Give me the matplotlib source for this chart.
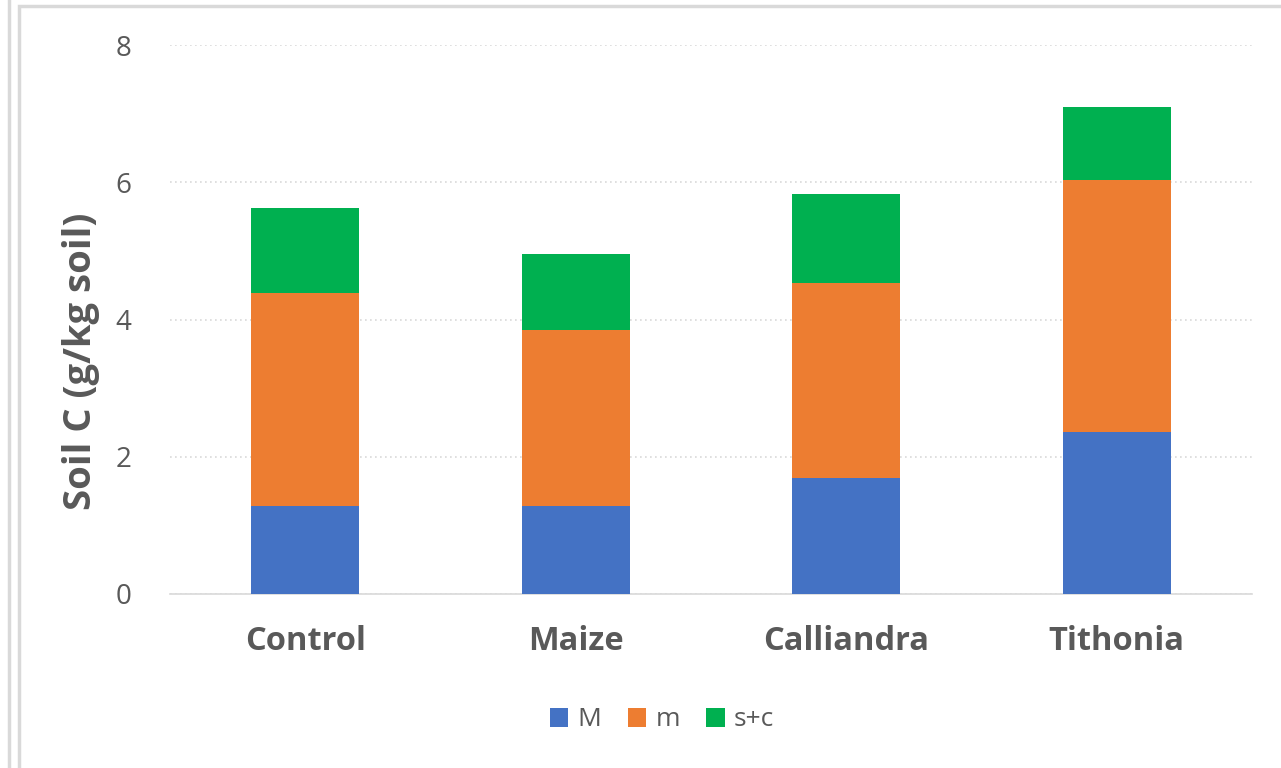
import numpy as np
import matplotlib.pyplot as plt
from matplotlib.patches import Rectangle
from matplotlib.lines import Line2D

categories = ['Control', 'Maize', 'Calliandra', 'Tithonia']
M = [1.28, 1.28, 1.69, 2.36]
m = [3.11, 2.57, 2.84, 3.67]
sc = [1.24, 1.11, 1.30, 1.07]

colors = ['#4472c4', '#ed7d31', '#00b050']

plt.rcParams['font.family'] = ['Open Sans', 'DejaVu Sans']

fig = plt.figure(figsize=(12.81, 7.68), dpi=100)
ax = fig.add_axes([170/1281, 1-594/768, (1252-170)/1281, (594-45)/768])

x = np.arange(len(categories))
w = 0.4
bottom = np.zeros(len(categories))
for vals, c, lab in zip([M, m, sc], colors, ['M', 'm', 's+c']):
    ax.bar(x, vals, w, bottom=bottom, color=c, label=lab, zorder=3)
    bottom += np.array(vals)

ax.set_xlim(-0.5, 3.5)
ax.set_ylim(0, 8)
ax.set_yticks([0, 2, 4, 6, 8])
ax.set_xticks(x)
ax.set_xticklabels(categories, fontsize=23.5, fontweight='bold', color='#595959')
ax.tick_params(axis='y', labelsize=20, labelcolor='#595959', length=0, pad=28)
ax.tick_params(axis='x', length=0, pad=22)
ax.yaxis.grid(True, linestyle=(0, (1, 2)), color='#d9d9d9', linewidth=1.2, zorder=0)
for s in ['top', 'right', 'left']:
    ax.spines[s].set_visible(False)
ax.spines['bottom'].set_color('#d9d9d9')
ax.spines['bottom'].set_linewidth(1.2)
ax.set_ylabel('Soil C (g/kg soil)', fontsize=27.5, fontweight='bold', color='#595959')
ax.yaxis.set_label_coords(-0.065, 0.424)

ax.legend(loc='center', bbox_to_anchor=(662/1281, 1-720/768), bbox_transform=fig.transFigure,
          ncol=3, frameon=False, fontsize=19, handlelength=0.7, handleheight=0.7,
          handletextpad=0.35, columnspacing=1.0, labelcolor='#595959')

# chart frame
fig.patches.append(Rectangle((19/1281, -0.1), 1.2, 1-6/768 + 0.1, transform=fig.transFigure,
                             fill=False, edgecolor='#d9d9d9', linewidth=2.5))
fig.lines.append(Line2D([9/1281, 9/1281], [0, 1], transform=fig.transFigure,
                        color='#d9d9d9', linewidth=2.5))

fig.savefig('out.png', dpi=100)
